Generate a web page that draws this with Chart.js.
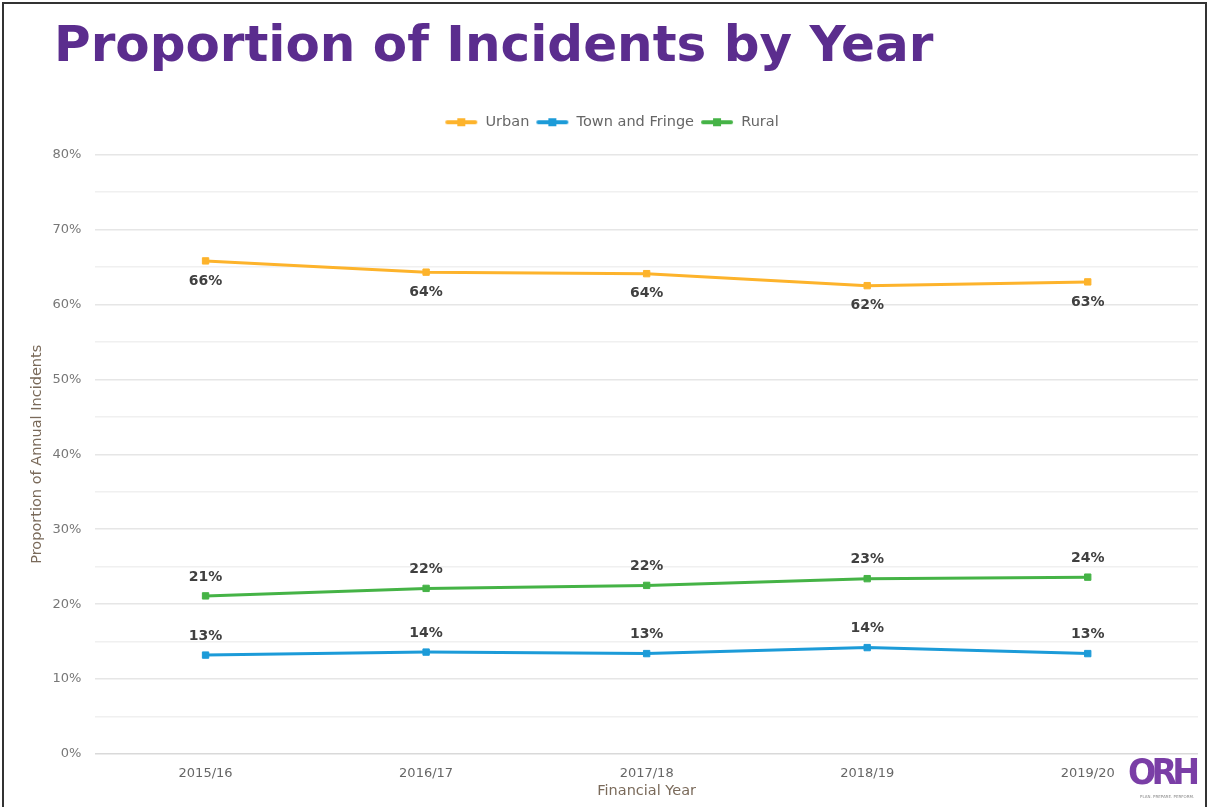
<!DOCTYPE html>
<html>
<head>
<meta charset="utf-8">
<script src="https://cdn.jsdelivr.net/npm/chart.js@4.4.0/dist/chart.umd.min.js"></script>
<style>
  html, body { margin: 0; padding: 0; background: #fff; }
  #frame { position: absolute; left: 2px; top: 2px; width: 1205px; height: 810px; border: 2px solid #333; border-bottom: none; box-sizing: border-box; }
  #title { position: absolute; left: 54px; top: 15px; font-family: "DejaVu Sans", Verdana, sans-serif; font-weight: bold; font-size: 50px; color: #5b2d8e; white-space: nowrap; }
  #wrap { position: absolute; left: 0; top: 0; width: 1213px; height: 807px; }
  #logo { position: absolute; left: 1128px; top: 752px; font-family: "DejaVu Sans", sans-serif; font-weight: bold; font-size: 35px; color: #7a3ea6; letter-spacing: -5px; transform: scaleX(0.95); transform-origin: left top; }
  #tag { position: absolute; left: 1140px; top: 794px; font-family: "DejaVu Sans", sans-serif; font-size: 4px; color: #888; }
</style>
</head>
<body>
<div id="frame"></div>
<div id="title">Proportion of Incidents by Year</div>
<div id="wrap"><canvas id="chart"></canvas></div>
<div id="logo">ORH</div>
<div id="tag">PLAN. PREPARE. PERFORM.</div>
<script>
const years = ['2015/16', '2016/17', '2017/18', '2018/19', '2019/20'];
const urban = [65.8, 64.3, 64.1, 62.5, 63.0];
const townFringe = [13.2, 13.6, 13.4, 14.2, 13.4];
const rural = [21.1, 22.1, 22.5, 23.4, 23.6];
const urbanLabels = ['66%', '64%', '64%', '62%', '63%'];
const townLabels = ['13%', '14%', '13%', '14%', '13%'];
const ruralLabels = ['21%', '22%', '22%', '23%', '24%'];

const FONT = '"DejaVu Sans", Verdana, sans-serif';

function legendIcon(color) {
  const c = document.createElement('canvas');
  c.width = 34; c.height = 10;
  const g = c.getContext('2d');
  g.strokeStyle = color; g.lineWidth = 4; g.lineCap = 'round';
  g.beginPath(); g.moveTo(3, 5); g.lineTo(31, 5); g.stroke();
  g.fillStyle = color; g.fillRect(13, 1, 8, 8);
  return c;
}

// value labels: below the point for Urban, above for the others
const valueLabels = {
  id: 'valueLabels',
  afterDatasetsDraw(chart) {
    const ctx = chart.ctx;
    ctx.save();
    ctx.font = 'bold 14px ' + FONT;
    ctx.fillStyle = '#404040';
    ctx.textAlign = 'center';
    ctx.textBaseline = 'middle';
    chart.data.datasets.forEach((ds, i) => {
      const meta = chart.getDatasetMeta(i);
      meta.data.forEach((pt, j) => {
        const dy = ds.labelBelow ? 20 : -19;
        ctx.fillText(ds.valueText[j], pt.x, pt.y + dy);
      });
    });
    ctx.restore();
  }
};

// extra room under the legend
const legendGap = {
  id: 'legendGap',
  beforeInit(chart) {
    const fit = chart.legend.fit;
    chart.legend.fit = function () {
      fit.call(this);
      this.height += 15;
    };
  }
};

const ctx = document.getElementById('chart').getContext('2d');
const chart = new Chart(ctx, {
  type: 'line',
  data: {
    labels: years,
    datasets: [
      { label: 'Urban', data: urban, valueText: urbanLabels, labelBelow: true,
        borderColor: '#fdb32b', backgroundColor: '#fdb32b' },
      { label: 'Town and Fringe', data: townFringe, valueText: townLabels,
        borderColor: '#1c9bd8', backgroundColor: '#1c9bd8' },
      { label: 'Rural', data: rural, valueText: ruralLabels,
        borderColor: '#45b346', backgroundColor: '#45b346' }
    ]
  },
  options: {
    responsive: true,
    maintainAspectRatio: false,
    animation: false,
    elements: {
      line: { borderWidth: 3, tension: 0 },
      point: { pointStyle: 'rect', radius: 4.5, hoverRadius: 4.5 }
    },
    layout: { padding: { top: 109, left: 25, right: 15, bottom: 7 } },
    plugins: {
      legend: {
        position: 'top',
        labels: {
          font: { family: FONT, size: 14.5 },
          color: '#666',
          usePointStyle: true,
          pointStyleWidth: 34,
          padding: 6,
          generateLabels(chart) {
            return chart.data.datasets.map((ds, i) => ({
              text: ds.label,
              pointStyle: legendIcon(ds.borderColor),
              fillStyle: ds.borderColor,
              strokeStyle: ds.borderColor,
              lineWidth: 0,
              datasetIndex: i,
              fontColor: '#666'
            }));
          }
        }
      },
      tooltip: { enabled: false }
    },
    scales: {
      x: {
        offset: true,
        grid: { display: false },
        border: { display: false },
        ticks: { font: { family: FONT, size: 13 }, color: '#666', padding: 4 },
        title: { display: true, text: 'Financial Year', font: { family: FONT, size: 14.5 }, color: '#7a6a5a', padding: { top: -3, bottom: 0 } }
      },
      y: {
        min: 0,
        max: 80,
        ticks: {
          stepSize: 5,
          font: { family: FONT, size: 13 },
          color: '#777',
          padding: 14,
          callback: v => v % 10 === 0 ? v + '%' : ''
        },
        grid: {
          color: c => c.tick && c.tick.value === 0 ? '#d9d9d9' : (c.tick && c.tick.value % 10 === 0 ? '#e6e6e6' : '#f0f0f0'),
          lineWidth: 1.5,
          drawTicks: false
        },
        border: { display: false },
        title: { display: true, text: 'Proportion of Annual Incidents', font: { family: FONT, size: 14.5 }, color: '#7a6a5a', padding: { top: 4, bottom: -8 } }
      }
    }
  },
  plugins: [valueLabels, legendGap]
});
</script>
</body>
</html>
